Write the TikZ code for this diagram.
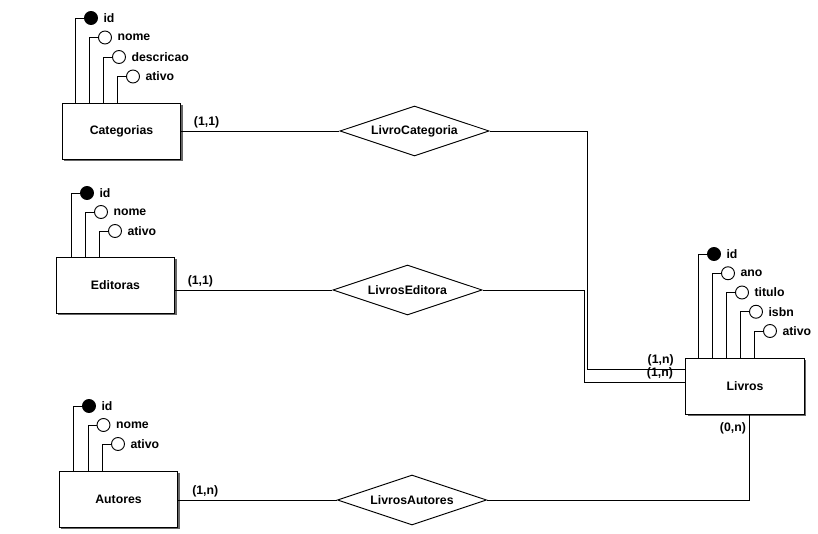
\documentclass[tikz,border=0pt]{standalone}
\usepackage{fontspec}
\setmainfont{Liberation Sans}
\usetikzlibrary{shapes.geometric, shadows, calc}

\begin{document}
\begin{tikzpicture}[x=0.75pt, y=-0.75pt,
    font=\fontsize{9.2}{10}\selectfont\bfseries,
    label distance=2pt,
    entity/.style={rectangle, draw=black, line width=0.7pt, fill=white, minimum width=89pt, minimum height=42pt,
        drop shadow={shadow xshift=1.5pt, shadow yshift=-1.5pt, fill=black!60, opacity=1}},
    rel/.style={diamond, draw=black, line width=0.7pt, fill=white, aspect=3, inner sep=0pt, minimum width=112pt, minimum height=37.5pt},
    attr/.style={circle, draw=black, line width=0.7pt, minimum size=9.75pt, inner sep=0pt},
    card/.style={inner sep=2pt},
    link/.style={draw=black, line width=0.7pt}]
    \useasboundingbox (0,0) rectangle (818,534);

    % entidades
    \node (cat) [entity] at (121.5,131.5) {Categorias};
    \node (edi) [entity] at (115.5,285) {Editoras};
    \node (aut) [entity] at (118.5,499.5) {Autores};
    \node (liv) [entity] at (745,386.5) {Livros};

    % relacionamentos
    \node (lcat) [rel] at (414.5,131) {LivroCategoria};
    \node (ledi) [rel] at (407.5,290) {LivrosEditora};
    \node (laut) [rel] at (412,500) {LivrosAutores};

    % atributos
    \foreach \a/\f [count=\i from 0] in {id/black, nome/white, descricao/white, ativo/white} {
        \node (cat-\a) [attr, fill=\f, label={[card]right:\a}] at ({91+14*\i}, {18+19.5*\i}) {};
        \draw[link] (cat-\a.west) -| ([xshift=-6.4pt]cat-\a.west |- cat.north);
    }
    \foreach \a/\f [count=\i from 0] in {id/black, nome/white, ativo/white} {
        \node (edi-\a) [attr, fill=\f, label={[card]right:\a}] at ({87+14*\i}, {193+19*\i}) {};
        \draw[link] (edi-\a.west) -| ([xshift=-6.4pt]edi-\a.west |- edi.north);
    }
    \foreach \a/\f [count=\i from 0] in {id/black, nome/white, ativo/white} {
        \node (aut-\a) [attr, fill=\f, label={[card]right:\a}] at ({89+14.5*\i}, {406+19*\i}) {};
        \draw[link] (aut-\a.west) -| ([xshift=-6.4pt]aut-\a.west |- aut.north);
    }
    \foreach \a/\f [count=\i from 0] in {id/black, ano/white, titulo/white, isbn/white, ativo/white} {
        \node (liv-\a) [attr, fill=\f, label={[card]right:\a}] at ({714+14*\i}, {254+19.25*\i}) {};
        \draw[link] (liv-\a.west) -| ([xshift=-6.4pt]liv-\a.west |- liv.north);
    }

    % ligacoes
    \coordinate (kcat) at (587,369);
    \coordinate (kedi) at (584,382);
    \draw[link] (cat.east |- lcat) -- node[card, above, pos=0.16] {(1,1)} (lcat.west);
    \draw[link] (lcat.east) -| (kcat) -- node[card, above, pos=0.75] {(1,n)} (liv.west |- kcat);
    \draw[link] (edi.east |- ledi) -- node[card, above, pos=0.16] {(1,1)} (ledi.west);
    \draw[link] (ledi.east) -| (kedi) -- node[card, above, pos=0.75] {(1,n)} (liv.west |- kedi);
    \draw[link] (aut.east |- laut) -- node[card, above, pos=0.17] {(1,n)} (laut.west);
    \draw[link] (laut.east) -| node[card, left, pos=0.92] {(0,n)} ([xshift=3pt]liv.south);
\end{tikzpicture}
\end{document}
